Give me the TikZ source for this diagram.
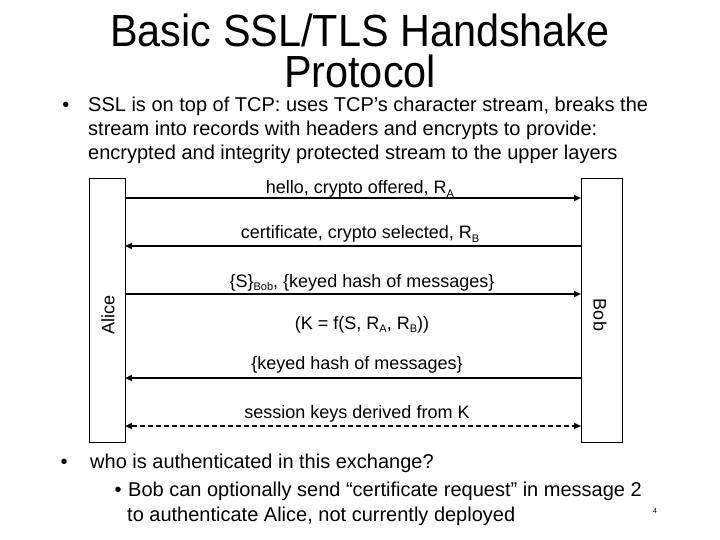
\documentclass[tikz,border=0pt]{standalone}
\usepackage{fontspec}
\setmainfont{Liberation Sans}
\usetikzlibrary{arrows.meta}
\newcommand\subx[1]{\raisebox{-3pt}{\fontsize{11}{11}\selectfont #1}}
\begin{document}
\begin{tikzpicture}[x=1pt,y=-1pt,
  ttl/.style={inner sep=0pt,anchor=base,xscale=0.92,align=center,font=\fontsize{45}{41}\selectfont},
  body/.style={inner sep=0pt,anchor=base west,font=\fontsize{20}{24}\selectfont},
  lbl/.style={inner sep=0pt,anchor=base,font=\fontsize{18}{20}\selectfont},
  msg/.style={line width=2pt,-{Triangle[length=7pt,width=6pt]}},
  dmsg/.style={line width=2pt,dash pattern=on 5pt off 3pt,{Triangle[length=7pt,width=6pt]}-{Triangle[length=7pt,width=6pt]}}]
\useasboundingbox (0,0) rectangle (720,540);
\fill[white] (0,0) rectangle (720,540);
% title
\node[ttl] (t1) at (360,88) {Basic SSL/TLS Handshake\\Protocol};
% bullet 1
\node[body,anchor=base] (b1) at (66,112) {•};
\node[body] (l1) at (88,112) {SSL is on top of TCP: uses TCP’s character stream, breaks the};
\node[body] (l2) at (88,136) {stream into records with headers and encrypts to provide:};
\node[body] (l3) at (88,160) {encrypted and integrity protected stream to the upper layers};
% parties
\draw[line width=0.8pt] (89,178) rectangle (125,442);
\draw[line width=0.8pt] (581,178) rectangle (622,442);
\node[lbl,anchor=center,rotate=90] (alice) at (108,315) {Alice};
\node[lbl,anchor=center,rotate=-90] (bob) at (600,315) {Bob};
% messages
\coordinate (a1) at (125,198); \coordinate (b1e) at (581,198);
\coordinate (a2) at (125,246); \coordinate (b2e) at (581,246);
\coordinate (a3) at (125,294); \coordinate (b3e) at (581,294);
\coordinate (a4) at (125,378); \coordinate (b4e) at (581,378);
\coordinate (a5) at (125,426); \coordinate (b5e) at (581,426);
\draw[msg] (a1) -- (b1e);
\draw[msg] (b2e) -- (a2);
\draw[msg] (a3) -- (b3e);
\draw[msg] (b4e) -- (a4);
\draw[dmsg] (a5) -- (b5e);
\node[lbl] (m1) at (360,194) {hello, crypto offered, R\subx{A}};
\node[lbl] (m2) at (360,239) {certificate, crypto selected, R\subx{B}};
\node[lbl] (m3) at (362,287) {\{S\}\subx{Bob}, \{keyed hash of messages\}};
\node[lbl] (m3b) at (362,329) {(K = f(S, R\subx{A}, R\subx{B}))};
\node[lbl] (m4) at (357,369) {\{keyed hash of messages\}};
\node[lbl] (m5) at (357,418) {session keys derived from K};
% bottom bullets
\node[body,anchor=base] (b2) at (64,468) {•};
\node[body] (q1) at (90,468) {who is authenticated in this exchange?};
\node[body,anchor=base] (b3) at (118,496) {•};
\node[body] (q2) at (128,496) {Bob can optionally send “certificate request” in message 2};
\node[body] (q3) at (127,521) {to authenticate Alice, not currently deployed};
\node[inner sep=0pt,font=\fontsize{7}{7}\selectfont] (pg) at (655,511) {4};
\end{tikzpicture}
\end{document}
